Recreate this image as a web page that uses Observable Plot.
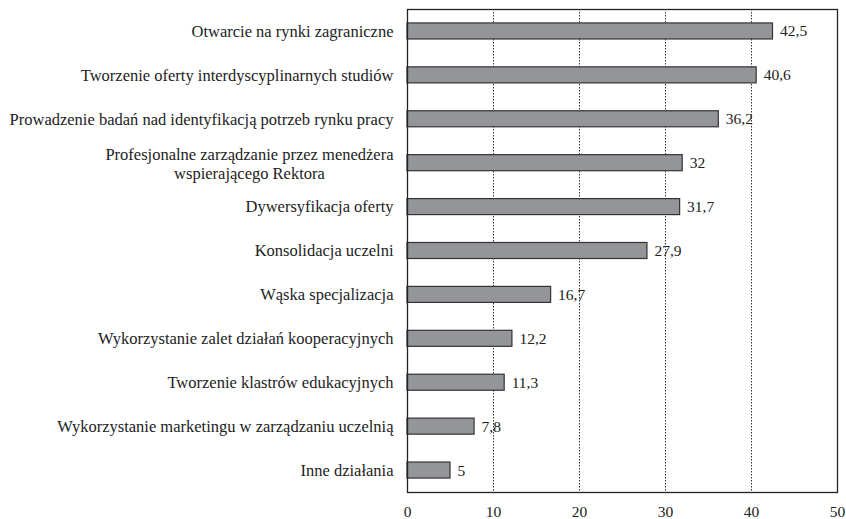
<!DOCTYPE html>
<html><head><meta charset="utf-8">
<script src="https://cdn.jsdelivr.net/npm/d3@7"></script>
<script src="https://cdn.jsdelivr.net/npm/@observablehq/plot@0.6"></script>
<style>body{margin:0;background:#fff}</style>
</head><body><div id="chart"></div>
<script>
const categories = [
  "Otwarcie na rynki zagraniczne",
  "Tworzenie oferty interdyscyplinarnych studiów",
  "Prowadzenie badań nad identyfikacją potrzeb rynku pracy",
  "Profesjonalne zarządzanie przez menedżera\nwspierającego Rektora",
  "Dywersyfikacja oferty",
  "Konsolidacja uczelni",
  "Wąska specjalizacja",
  "Wykorzystanie zalet działań kooperacyjnych",
  "Tworzenie klastrów edukacyjnych",
  "Wykorzystanie marketingu w zarządzaniu uczelnią",
  "Inne działania"
];
const values = [42.5, 40.6, 36.2, 32, 31.7, 27.9, 16.7, 12.2, 11.3, 7.8, 5];
const xTicks = [0, 10, 20, 30, 40, 50];
const gridTicks = [10, 20, 30, 40];

const data = categories.map((c, i) => ({label: c, value: values[i]}));
const FONT = "'Liberation Serif', 'Times New Roman', serif";
const LABEL_SIZE = 16.5;
const fmt = v => String(v).replace(".", ",");

const ctx = document.createElement("canvas").getContext("2d");
ctx.font = `${LABEL_SIZE}px ${FONT}`;
const single = data.filter(d => !d.label.includes("\n"));
const multi = data.filter(d => d.label.includes("\n")).map(d => {
  const w = Math.max(...d.label.split("\n").map(l => ctx.measureText(l).width));
  return {...d, half: w / 2};
});

const chart = Plot.plot({
  width: 846,
  height: 519,
  marginLeft: 407,
  marginRight: 9,
  marginTop: 9,
  marginBottom: 27,
  style: {fontFamily: FONT, fontSize: "15.5px", color: "#222", background: "#fff"},
  x: {domain: [0, 50], ticks: xTicks, tickSize: 0, tickPadding: 13, label: null, tickFormat: d => d},
  y: {domain: categories, paddingInner: 0.635, paddingOuter: 0.3175, round: false, axis: null},
  marks: [
    Plot.ruleX(gridTicks, {stroke: "#333", strokeDasharray: "1.5,1.5", strokeWidth: 1}),
    Plot.barX(data, {x: "value", y: "label", fill: "#939598", stroke: "#333", strokeWidth: 1.2}),
    Plot.text(data, {x: "value", y: "label", text: d => fmt(d.value), textAnchor: "start", dx: 7, fontSize: 15.5, fontFamily: FONT, fill: "#222"}),
    Plot.text(single, {y: "label", text: "label", frameAnchor: "left", textAnchor: "end", dx: -14, fontSize: LABEL_SIZE, fontFamily: FONT, fill: "#222"}),
    Plot.text(multi, {y: "label", text: "label", frameAnchor: "left", textAnchor: "middle", fontSize: LABEL_SIZE, fontFamily: FONT, fill: "#222", lineHeight: 1.2,
      render: (index, scales, values, dims, context, next) => {
        const g = next(index, scales, values, dims, context);
        d3.select(g).selectAll("text").each(function(_, j) {
          const d = multi[index[j]];
          const t = d3.select(this);
          const tr = t.attr("transform") || "";
          t.attr("transform", tr + ` translate(${-14 - d.half},0)`);
        });
        return g;
      }}),
    Plot.frame({stroke: "#222", strokeWidth: 1.3})
  ]
});
document.getElementById("chart").appendChild(chart);
</script>
</body></html>
